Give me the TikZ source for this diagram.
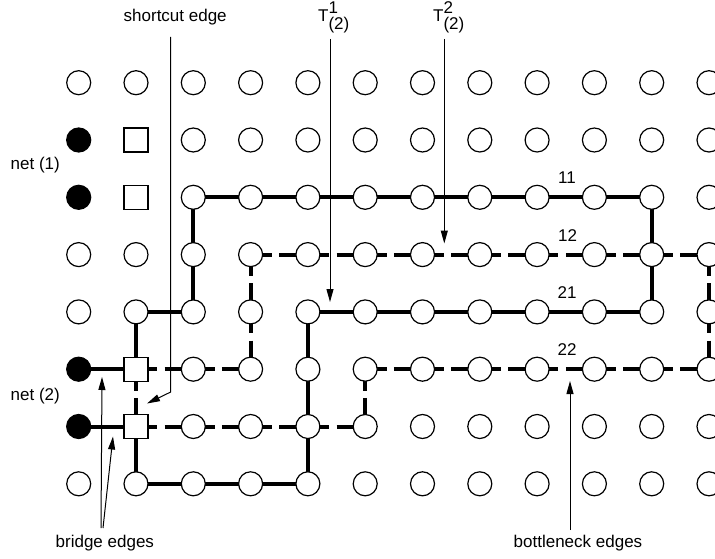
\documentclass[tikz,border=0pt]{standalone}
\usepackage{fontspec}
\setmainfont{Liberation Sans}
\usetikzlibrary{arrows.meta}
\pgfdeclarelayer{background}
\pgfsetlayers{background,main}
\begin{document}
\begin{tikzpicture}[x=1pt,y=-1pt, font=\fontsize{17}{20}\selectfont,
  circ/.style={circle, draw, line width=1.2pt, fill=white, minimum size=24pt, inner sep=0pt},
  blk/.style={circ, fill=black},
  sq/.style={rectangle, draw, line width=1.2pt, fill=white, minimum size=24pt, inner sep=0pt},
  sol/.style={line width=4pt},
  dsh/.style={line width=4pt, dash pattern=on 21.35pt off 7.3pt},
  ptr/.style={line width=1pt, -{Triangle[length=13pt,width=7pt]}},
  lbl/.style={inner sep=0pt, anchor=base west}
]
\useasboundingbox (0,0) rectangle (715,559);
\begin{scope}
\clip (0,0) rectangle (715,559);
% grid nodes
\foreach \c in {2,...,11}{
  \foreach \r in {0,...,7}{
    \node[circ] (n\c-\r) at ({78.7+57.3*\c},{82.7+57.3*\r}) {};
  }
}
\foreach \c in {0,1}{
  \foreach \r in {0,3,4,7}{
    \node[circ] (n\c-\r) at ({78.7+57.3*\c},{82.7+57.3*\r}) {};
  }
}
\foreach \r in {1,2,5,6}{
  \node[blk] (n0-\r) at (78.7,{82.7+57.3*\r}) {};
  \node[sq] (n1-\r) at (136,{82.7+57.3*\r}) {};
}
\end{scope}

% edges
\begin{pgfonlayer}{background}
  % solid tree
  \draw[sol] (n1-5.center) -- (n1-4.center) -- (n2-4.center) -- (n2-2.center)
     -- (n10-2.center) -- (n10-4.center) -- (n4-4.center) -- (n4-7.center)
     -- (n1-7.center) -- (n1-6.center);
  % bridge edges
  \draw[sol] (n0-5.center) -- (n1-5.center);
  \draw[sol] (n0-6.center) -- (n1-6.center);
  % dashed tree
  \draw[dsh] (n1-5.center) -- (n3-5.center);
  \draw[dsh] (n3-3.center) -- (n3-5.center);
  \draw[dsh] (n3-3.center) -- (n11-3.center);
  \draw[dsh] (n11-3.center) -- (n11-5.center);
  \draw[dsh] (n5-5.center) -- (n11-5.center);
  \draw[dsh] (n5-5.center) -- (n5-6.center);
  \draw[dsh] (n1-6.center) -- (n5-6.center);
  % shortcut edge
  \draw[dsh] (n1-5.center) -- (n1-6.center);
\end{pgfonlayer}

% labels
\node[lbl] (lsc) at (123.5,22) {shortcut edge};
\node[lbl] (lnet1) at (10.5,170) {net (1)};
\node[lbl] (lnet2) at (10.5,400) {net (2)};
\node[lbl] (lbr) at (55.5,547) {bridge edges};
\node[lbl] (lbn) at (513.5,547) {bottleneck edges};
\node[lbl] (l11) at (558,183.3) {11};
\node[lbl] (l12) at (558,241.7) {12};
\node[lbl] (l21) at (557.5,298.3) {21};
\node[lbl] (l22) at (557.5,355.7) {22};
\node[lbl] (lt1) at (318,22) {T\rlap{\raisebox{8pt}{1}}\raisebox{-7.4pt}{(2)}};
\node[lbl] (lt2) at (433,22) {T\rlap{\raisebox{8pt}{2}}\raisebox{-7.4pt}{(2)}};

% pointer arrows
\coordinate (sc0) at (170.7,37);
\coordinate (sc1) at (170.7,392);
\coordinate (sc2) at (147,403.5);
\draw[ptr] (sc0) -- (sc1) -- (sc2);
\coordinate (t1a) at (330,39);
\coordinate (t1b) at (330,302);
\draw[ptr] (t1a) -- (t1b);
\coordinate (t2a) at (444.3,39);
\coordinate (t2b) at (444.3,243.5);
\draw[ptr] (t2a) -- (t2b);
\coordinate (bna) at (570,530);
\coordinate (bnb) at (570,381);
\draw[ptr] (bna) -- (bnb);
\coordinate (bra) at (101,528);
\coordinate (brb) at (102,377);
\coordinate (brc) at (103,528);
\coordinate (brd) at (113,436.5);
\draw[ptr] (bra) -- (brb);
\draw[ptr] (brc) -- (brd);
\end{tikzpicture}
\end{document}
